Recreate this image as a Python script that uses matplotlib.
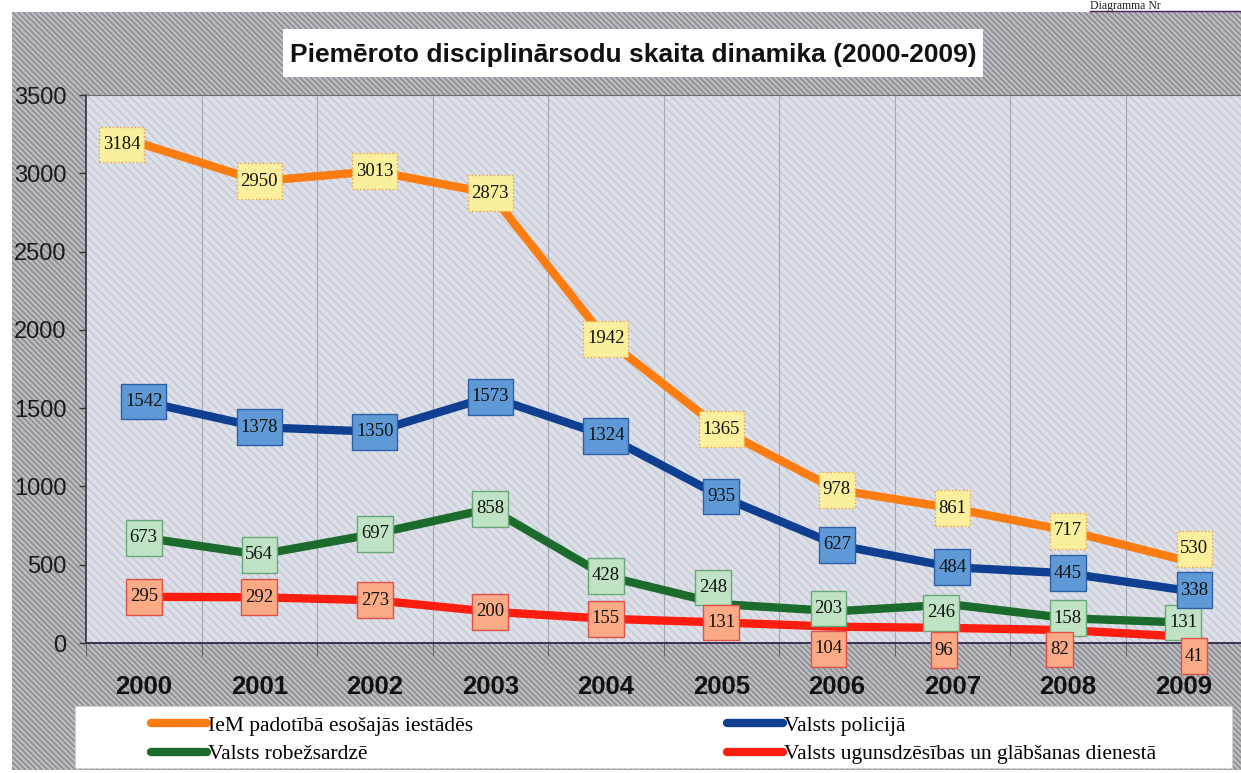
import matplotlib.pyplot as plt
from matplotlib.patches import Rectangle
from matplotlib.path import Path

# data
years = ['2000', '2001', '2002', '2003', '2004', '2005', '2006', '2007', '2008', '2009']
iem = [3184, 2950, 3013, 2873, 1942, 1365, 978, 861, 717, 530]
policija = [1542, 1378, 1350, 1573, 1324, 935, 627, 484, 445, 338]
robezsardze = [673, 564, 697, 858, 428, 248, 203, 246, 158, 131]
ugunsdzesiba = [295, 292, 273, 200, 155, 131, 104, 96, 82, 41]

series_names = ['IeM padotībā esošajās iestādēs', 'Valsts robežsardzē',
                'Valsts policijā', 'Valsts ugunsdzēsības un glābšanas dienestā']
title = 'Piemēroto disciplinārsodu skaita dinamika (2000-2009)'

W, H = 1241, 773
fig = plt.figure(figsize=(W / 100, H / 100), dpi=100)
fig.set_facecolor('white')

def fx(px):
    return px / W

def fy(py):
    return 1 - py / H

# label boxes: narrow side padding, taller top/bottom padding
def label_box(x0, y0, width, height, mutation_size):
    px, py = 0.2 * mutation_size, 0.5 * mutation_size
    x0, y0 = x0 - px, y0 - py
    x1, y1 = x0 + width + 2 * px, y0 + height + 2 * py
    return Path([(x0, y0), (x1, y0), (x1, y1), (x0, y1), (x0, y0)], closed=True)

# hatched gray background of the chart area
plt.rcParams['hatch.linewidth'] = 1.2
fig.patches.append(Rectangle((fx(12), fy(770)), fx(1241 - 12), (770 - 12) / H,
                             transform=fig.transFigure, facecolor='#bdbdc2',
                             edgecolor='#8c8c94', hatch='\\\\\\\\\\\\', lw=0, zorder=-5))

# title box
fig.patches.append(Rectangle((fx(283), fy(77)), fx(700), 48 / H, transform=fig.transFigure,
                             facecolor='white', edgecolor='none', zorder=-4))
fig.text(fx(633), fy(55), title, ha='center', va='center', fontsize=19,
         fontweight='bold', family='Liberation Sans', color='#111111', zorder=2)

# header text at the top right
fig.text(fx(1090), fy(0), 'Diagramma Nr', ha='left', va='top', fontsize=8.5,
         family='Liberation Serif', color='#222222')
fig.add_artist(plt.Line2D([fx(1090), fx(1241)], [fy(11), fy(11)], color='#4a2060', lw=1))

ax = fig.add_axes([fx(86), fy(643), fx(1241 - 86), (643 - 95) / H])
ax.set_facecolor('#dde0e8')
ax.add_patch(Rectangle((0, 0), 1, 1, transform=ax.transAxes, facecolor='none',
                       edgecolor='#c8ccd6', hatch='\\\\\\\\', lw=0, zorder=0))

x = list(range(len(years)))
ax.set_xlim(-0.5, 9.5)
ax.set_ylim(0, 3500)

for b in [i + 0.5 for i in range(9)]:
    ax.axvline(b, color='#a4a6b0', lw=0.8, zorder=1)

series = [
    (iem, '#fb7d12', '#f9ef9c', '#f0a040', ':'),
    (robezsardze, '#1b6b2c', '#bfe3c4', '#6aa878', '-'),
    (policija, '#0e3f90', '#5f9ad6', '#2f5fa8', '-'),
    (ugunsdzesiba, '#fe1e10', '#fbaa86', '#e0504a', '-'),
]

# label nudges in points (dx, dy) where the labels were moved off the line
nudges = {
    0: {0: (-16, 0), 9: (8, 8)},
    1: {5: (-6, 12), 6: (-6, 2), 7: (-8, -6)},
    2: {9: (8, 0)},
    3: {6: (-6, -16), 7: (-6, -16), 8: (-6, -14), 9: (8, -14)},
}

for k, (vals, lc, fc, ec, ls) in enumerate(series):
    ax.plot(x, vals, color=lc, lw=6, solid_capstyle='butt', zorder=3, label=series_names[k])

for k, (vals, lc, fc, ec, ls) in enumerate(series):
    for i, v in enumerate(vals):
        dx, dy = nudges[k].get(i, (0, 0))
        ax.annotate(str(v), (i, v), xytext=(dx, dy), textcoords='offset points',
                    ha='center', va='center', fontsize=13.5, family='Liberation Serif',
                    color='#111111', zorder=5,
                    bbox=dict(boxstyle=label_box, facecolor=fc, edgecolor=ec,
                              lw=1, linestyle=ls))

ax.spines[['right']].set_visible(False)
ax.spines['top'].set_color('#6c6c74')
ax.spines['left'].set_color('#333333')
ax.spines['bottom'].set_color('#3a3052')
ax.spines['left'].set_linewidth(1.2)
ax.spines['bottom'].set_linewidth(1.4)

ax.set_yticks(range(0, 3501, 500))
ax.tick_params(axis='y', direction='out', length=5, width=1, color='#333333',
               labelsize=17, labelcolor='#1a1a1a', pad=9)
for t in ax.get_yticklabels():
    t.set_family('Liberation Sans')

ax.set_xticks(x)
ax.set_xticklabels(years, fontsize=18.5, fontweight='bold', family='Liberation Sans',
                   color='#111111')
ax.tick_params(axis='x', length=0, pad=23)
ax.set_xticks([i + 0.5 for i in range(-1, 10)], minor=True)
ax.tick_params(axis='x', which='minor', direction='out', length=9, color='#555555')

# legend on a white strip
fig.patches.append(Rectangle((fx(75), fy(768)), fx(1232 - 75), 62 / H, transform=fig.transFigure,
                             facecolor='white', edgecolor='#d0d0d0', lw=0.8, zorder=-3))
handles, labels = ax.get_legend_handles_labels()
leg = fig.legend(handles, labels, loc='upper left', bbox_to_anchor=(fx(138), fy(703)),
                 ncol=2, frameon=False, prop={'family': 'Liberation Serif', 'size': 15.5},
                 handlelength=2.6, handletextpad=0.05, columnspacing=11.8,
                 labelspacing=0.38, borderpad=0.1)
for h in leg.legend_handles:
    h.set_linewidth(6)
    h.set_solid_capstyle('round')

fig.savefig('out.png', dpi=100)
